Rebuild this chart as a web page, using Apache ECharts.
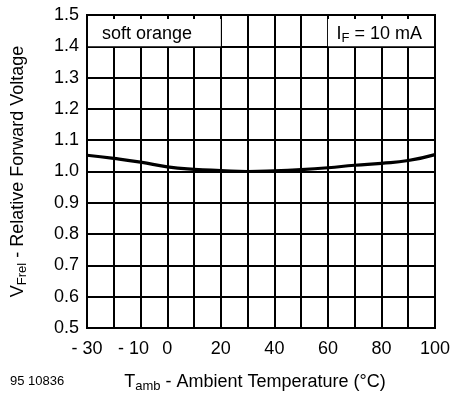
<!DOCTYPE html>
<html><head><meta charset="utf-8">
<script src="https://cdn.jsdelivr.net/npm/echarts@6/dist/echarts.min.js"></script>
<style>html,body{margin:0;padding:0;background:#fff}#c{width:451px;height:394px}</style>
</head><body><div id="c"></div>
<script>
var temps = [-30,-20,-10,0,10,20,30,40,50,60,70,80,90,100];
var vfrel = [1.052,1.042,1.030,1.015,1.007,1.003,1.000,1.002,1.006,1.012,1.020,1.026,1.035,1.054];
var xTickLabels = {'-30':'- 30','-10':'{m|- 10}','0':'0','20':'20','40':'40','60':'60','80':'80','100':'100'};
var yTicks = [0.5,0.6,0.7,0.8,0.9,1.0,1.1,1.2,1.3,1.4,1.5];
var noteLeft = 'soft orange';
var noteRight = 'I{sub|F} = 10 mA';
var figId = '95 10836';

var chart = echarts.init(document.getElementById('c'));
var F = 'Liberation Sans, Arial, Helvetica, sans-serif';
var sub = {fontSize:13,verticalAlign:'bottom',padding:[9,0,0,0],color:'#000',fontFamily:F};
chart.setOption({
  animation:false,
  backgroundColor:'#fff',
  grid:{left:87,right:16,top:15,bottom:66,show:true,borderColor:'#000',borderWidth:2,z:10,backgroundColor:'transparent',
    outerBoundsMode:'none',containLabel:false},
  xAxis:{type:'value',min:-30,max:100,interval:10,
    axisLine:{show:false},axisTick:{show:false},
    splitLine:{show:true,lineStyle:{color:'#000',width:2}},
    axisLabel:{interval:0,color:'#000',fontSize:18,fontFamily:F,margin:12,showMinLabel:true,showMaxLabel:true,hideOverlap:false,
      rich:{m:{fontSize:18,fontFamily:F,color:'#000',padding:[0,14,0,0]}},
      formatter:function(v){var k=String(Math.round(v));return xTickLabels[k]!==undefined?xTickLabels[k]:'';}},
    name:'T{sub|amb} - Ambient Temperature (°C)',nameLocation:'middle',nameGap:43,
    nameTextStyle:{color:'#000',fontSize:18,fontFamily:F,padding:[0,12,0,0],rich:{sub:sub}}
  },
  yAxis:{type:'value',min:0.5,max:1.5,interval:0.1,
    axisLine:{show:false},axisTick:{show:false},
    splitLine:{show:true,lineStyle:{color:'#000',width:2}},
    axisLabel:{color:'#000',fontSize:18,fontFamily:F,margin:8,formatter:function(v){return v.toFixed(1);}},
    name:'V{sub|Frel} - Relative Forward Voltage',nameLocation:'middle',nameGap:58,nameRotate:90,
    nameTextStyle:{color:'#000',fontSize:18,fontFamily:F,rich:{sub:sub}}
  },
  graphic:[{type:'text',left:10,top:375,style:{text:figId,fontSize:13,fontFamily:F,fill:'#000'}}],
  series:[{
    type:'line',smooth:true,symbol:'none',
    data:temps.map(function(t,i){return [t,vfrel[i]];}),
    lineStyle:{color:'#000',width:3.2},
    markArea:{silent:true,
      itemStyle:{color:'#fff'},
      label:{show:true,color:'#000',fontSize:18,fontFamily:F},
      data:[
        [{xAxis:-30,yAxis:1.4,label:{position:'insideLeft',offset:[10,1],formatter:noteLeft}},{xAxis:20,yAxis:1.487}],
        [{xAxis:60,yAxis:1.4,label:{position:'insideRight',offset:[-8,1],formatter:noteRight,rich:{sub:sub}}},{xAxis:100,yAxis:1.487}]
      ]}
  }]
});
</script></body></html>
